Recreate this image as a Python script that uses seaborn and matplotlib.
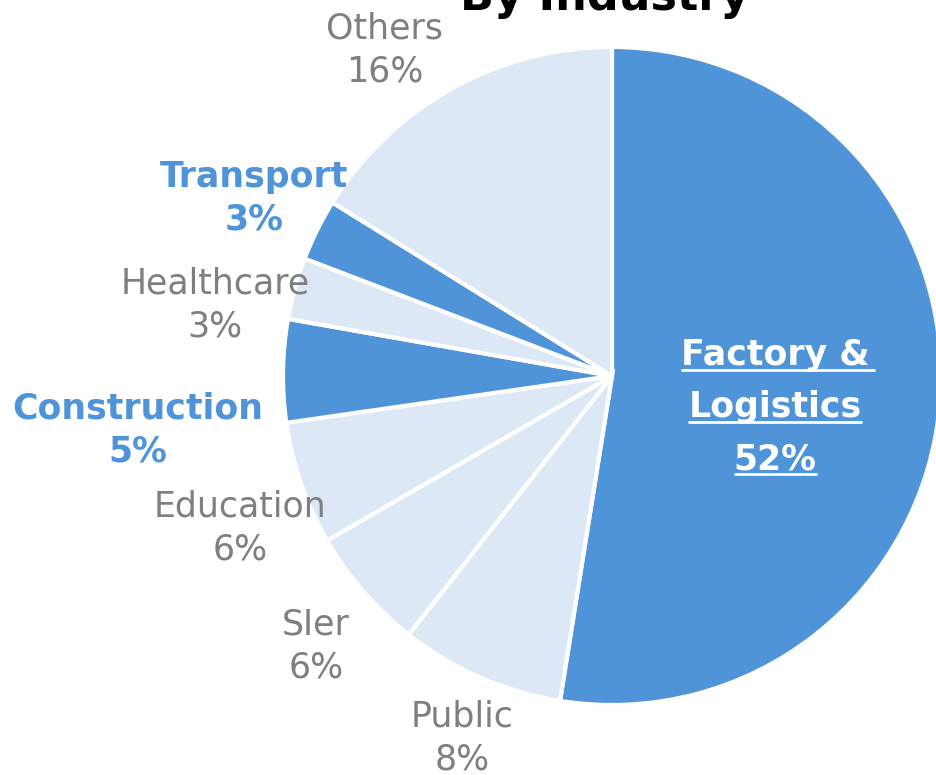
import matplotlib
matplotlib.use("Agg")
import matplotlib.pyplot as plt
import seaborn as sns

# data (clockwise from 12 o'clock)
industries = ["Factory &\nLogistics", "Public", "SIer", "Education",
              "Construction", "Healthcare", "Transport", "Others"]
shares = [52, 8, 6, 6, 5, 3, 3, 16]
highlight = [True, False, False, False, True, False, True, False]

sns.set_theme(style="white")
plt.rcParams["font.family"] = ["DejaVu Sans"]

dark_blue = "#4F94D9"
light_blue = "#DCE8F6"
grey = "#7F7F7F"
colors = [dark_blue if h else light_blue for h in highlight]

W, H = 936, 775
fig = plt.figure(figsize=(W / 100, H / 100), dpi=100)
ax = fig.add_axes([0, 0, 1, 1])

ax.pie(shares, colors=colors, startangle=90, counterclock=False,
       radius=329, center=(612, H - 376),
       wedgeprops=dict(edgecolor="white", linewidth=3.0))

# pie() resets the limits, so set pixel limits afterwards
ax.set_xlim(0, W)
ax.set_ylim(0, H)
ax.set_aspect("equal")
ax.axis("off")

# label centres in pixels from top-left
label_pos = {
    "Public": (462, 738),
    "SIer": (316, 646),
    "Education": (240, 528),
    "Construction": (138, 430),
    "Healthcare": (215, 305),
    "Transport": (254, 198),
    "Others": (385, 50),
}
fs = 25
for name, val, hi in zip(industries, shares, highlight):
    if name not in label_pos:
        continue
    x, y = label_pos[name]
    ax.text(x, H - y, f"{name}\n{val}%", ha="center", va="center",
            fontsize=fs, color=dark_blue if hi else grey,
            fontweight="bold" if hi else "normal", linespacing=1.32)

# big slice label, white, bold, underlined
big_lines = industries[0].split("\n") + [f"{shares[0]}%"]
baselines = [365, 417, 469]
extra = [6, 0, 0]  # underline runs past the "&" in the original
texts = []
for line, yb in zip(big_lines, baselines):
    t = ax.text(775, H - yb, line, ha="center", va="baseline",
                fontsize=fs, color="white", fontweight="bold")
    texts.append((t, yb))

fig.canvas.draw()
r = fig.canvas.get_renderer()
for (t, yb), ex in zip(texts, extra):
    bb = t.get_window_extent(renderer=r)
    ax.plot([bb.x0, bb.x1 + ex], [H - yb - 5, H - yb - 5], color="white",
            lw=2, solid_capstyle="butt")

# title, clipped at the top edge like the original
ax.text(605, H - 10, "By Industry", ha="center", va="baseline",
        fontsize=32, fontweight="bold", color="black")

fig.savefig("out.png", dpi=100)
